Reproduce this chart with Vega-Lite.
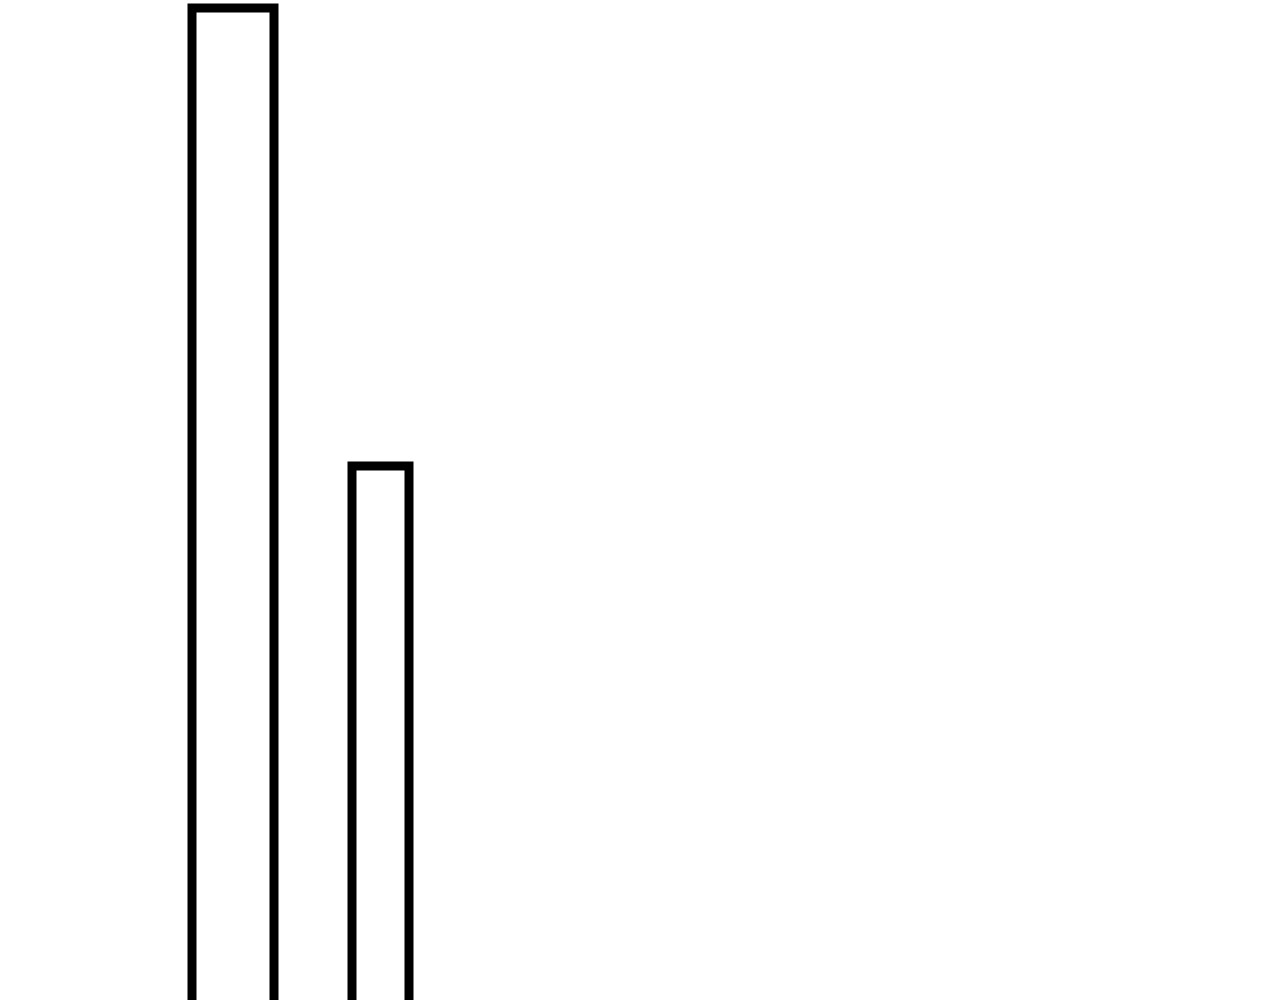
{
  "$schema": "https://vega.github.io/schema/vega-lite/v6.json",
  "width": 1280,
  "height": 1100,
  "autosize": "none",
  "padding": 0,
  "background": "white",
  "config": {"view": {"stroke": null}},
  "data": {
    "values": [
      {"start": 19.2, "end": 27.4, "value": 109.2},
      {"start": 35.2, "end": 40.9, "value": 63.4}
    ]
  },
  "mark": {"type": "rect", "fill": "white", "stroke": "black", "strokeWidth": 9},
  "encoding": {
    "x": {"field": "start", "type": "quantitative", "scale": {"domain": [0, 128], "nice": false}, "axis": null},
    "x2": {"field": "end"},
    "y": {"field": "value", "type": "quantitative", "scale": {"domain": [0, 110], "nice": false}, "axis": null},
    "y2": {"datum": 0}
  }
}
